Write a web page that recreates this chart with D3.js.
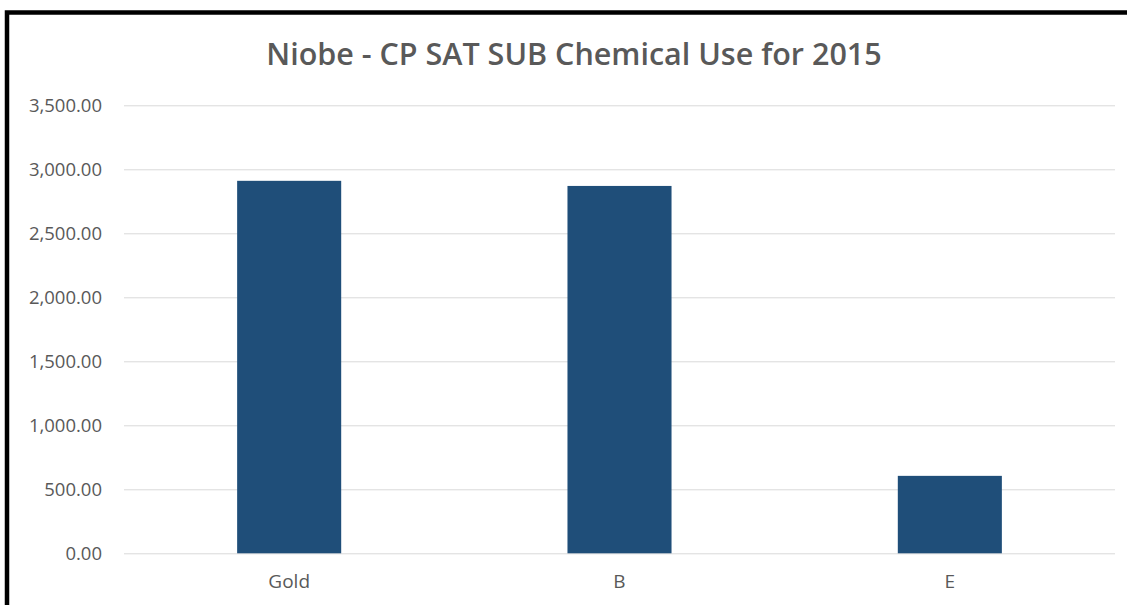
<!DOCTYPE html>
<html><head><meta charset="utf-8">
<script src="https://cdn.jsdelivr.net/npm/d3@7"></script>
<style>body{margin:0;background:#fff}svg{display:block}</style>
</head><body>
<svg id="c" width="1127" height="605"></svg>
<script>
const categories = ["Gold", "B", "E"];
const values = [2910, 2870, 605];
const yTicks = [0, 500, 1000, 1500, 2000, 2500, 3000, 3500];
const title = "Niobe - CP SAT SUB Chemical Use for 2015";

const svg = d3.select("#c");
const font = "'Open Sans', 'Liberation Sans', sans-serif";
// frame
svg.append("rect").attr("x", 7).attr("y", 12.5).attr("width", 1130).attr("height", 620)
  .attr("fill", "#fff").attr("stroke", "#000").attr("stroke-width", 4.5);

const m = {left: 124, right: 1115, top: 105.3, bottom: 553.3};
const x = d3.scaleBand().domain(categories).range([m.left, m.right]).paddingInner(0.685).paddingOuter(0.3425);
const y = d3.scaleLinear().domain([0, 3500]).range([m.bottom, m.top]);

svg.append("text").attr("x", 574).attr("y", 65).attr("text-anchor", "middle")
  .attr("font-family", font).attr("font-size", 30.5).attr("font-weight", 600)
  .attr("fill", "#595959").text(title);

const ga = svg.append("g").attr("transform", `translate(${m.left},0)`)
  .call(d3.axisLeft(y).tickValues(yTicks).tickSize(-(m.right - m.left)).tickPadding(22)
    .tickFormat(d3.format(",.2f")));
ga.select(".domain").remove();
ga.selectAll(".tick line").attr("stroke", "#d9d9d9").attr("stroke-width", 1);
ga.selectAll(".tick text").attr("font-family", font).attr("font-size", 18.5).attr("fill", "#595959");

svg.append("g").selectAll("rect").data(categories).join("rect")
  .attr("x", d => x(d)).attr("width", x.bandwidth())
  .attr("y", (d, i) => y(values[i])).attr("height", (d, i) => y(0) - y(values[i]))
  .attr("fill", "#1f4e79");

const gx = svg.append("g").attr("transform", `translate(0,${m.bottom})`)
  .call(d3.axisBottom(x).tickSize(0).tickPadding(21));
gx.select(".domain").remove();
gx.selectAll(".tick text").attr("font-family", font).attr("font-size", 19).attr("fill", "#595959");
</script>
</body></html>
